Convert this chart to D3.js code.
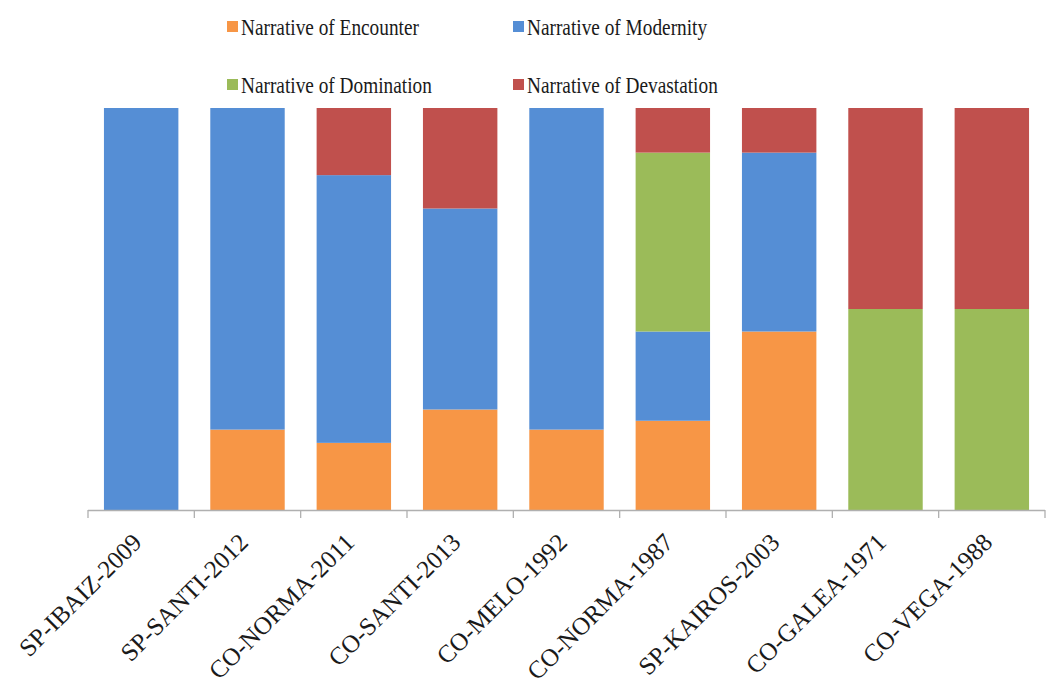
<!DOCTYPE html>
<html>
<head>
<meta charset="utf-8">
<script src="https://cdn.jsdelivr.net/npm/d3@7"></script>
<style>
  html, body { margin: 0; padding: 0; background: #fff; }
  svg { display: block; }
  text { font-family: "Liberation Serif", "Times New Roman", serif; fill: #1a1a1a; }
</style>
</head>
<body>
<svg id="chart" width="1049" height="697"></svg>
<script>
// Share (%) of each narrative per text
const categories = ["SP-IBAIZ-2009", "SP-SANTI-2012", "CO-NORMA-2011", "CO-SANTI-2013", "CO-MELO-1992",
                    "CO-NORMA-1987", "SP-KAIROS-2003", "CO-GALEA-1971", "CO-VEGA-1988"];
const encounter   = [0,   20, 16.7, 25, 20, 22.2, 44.4, 0,  0];
const modernity   = [100, 80, 66.6, 50, 80, 22.2, 44.5, 0,  0];
const domination  = [0,   0,  0,    0,  0,  44.5, 0,    50, 50];
const devastation = [0,   0,  16.7, 25, 0,  11.1, 11.1, 50, 50];

const seriesNames = ["Narrative of Encounter", "Narrative of Modernity", "Narrative of Domination", "Narrative of Devastation"];
const seriesKeys = ["encounter", "modernity", "domination", "devastation"];
const colors = ["#F79646", "#558ED5", "#9BBB59", "#C0504D"];

const rows = categories.map((c, i) => ({
  name: c,
  encounter: encounter[i],
  modernity: modernity[i],
  domination: domination[i],
  devastation: devastation[i]
}));

const svg = d3.select("#chart");

const x = d3.scaleBand()
  .domain(categories)
  .range([88, 1045])
  .paddingInner(0.3)
  .paddingOuter(0.15);

const y = d3.scaleLinear().domain([0, 100]).range([510, 108]);

const stacked = d3.stack().keys(seriesKeys)(rows);
const color = d3.scaleOrdinal().domain(seriesKeys).range(colors);

// Stacked bars
svg.append("g")
  .selectAll("g")
  .data(stacked)
  .join("g")
  .attr("fill", d => color(d.key))
  .selectAll("rect")
  .data(d => d)
  .join("rect")
  .attr("x", d => x(d.data.name))
  .attr("width", x.bandwidth())
  .attr("y", d => y(d[1]))
  .attr("height", d => Math.max(0, y(d[0]) - y(d[1])));

// Category axis: baseline with ticks at band boundaries
const axis = svg.append("g");
axis.append("line")
  .attr("x1", 88).attr("x2", 1045)
  .attr("y1", 510.5).attr("y2", 510.5)
  .attr("stroke", "#b0b0b0").attr("stroke-width", 1.3);

const step = x.step();
const bounds = d3.range(categories.length + 1).map(i => 88 + i * step);
axis.selectAll("line.tick")
  .data(bounds)
  .join("line")
  .attr("class", "tick")
  .attr("x1", d => d).attr("x2", d => d)
  .attr("y1", 510).attr("y2", 518)
  .attr("stroke", "#b0b0b0").attr("stroke-width", 1.3);

axis.selectAll("text")
  .data(categories)
  .join("text")
  .attr("transform", d => `translate(${x(d) + x.bandwidth() / 2 + 2},544) rotate(-45)`)
  .attr("text-anchor", "end")
  .attr("font-size", 25)
  .text(d => d);

// Legend, two rows of two
const legendPos = [[227, 27], [513, 27], [227, 85], [513, 85]];
const legend = svg.append("g");
const items = legend.selectAll("g")
  .data(seriesNames)
  .join("g")
  .attr("transform", (d, i) => `translate(${legendPos[i][0]},${legendPos[i][1]})`);

items.append("rect")
  .attr("x", 0).attr("y", -6)
  .attr("width", 11).attr("height", 11)
  .attr("fill", (d, i) => colors[i]);

items.append("text")
  .attr("transform", "translate(14,8) scale(0.84,1)")
  .attr("font-size", 23)
  .text(d => d);
</script>
</body>
</html>
